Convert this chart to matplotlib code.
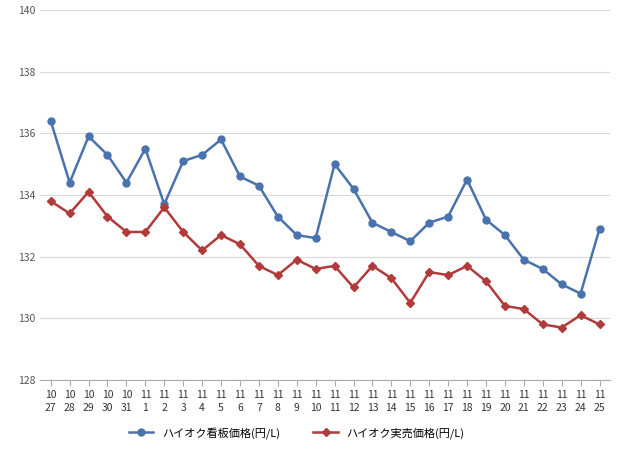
import matplotlib
matplotlib.use("Agg")
import matplotlib.pyplot as plt
import numpy as np

plt.rcParams['font.family'] = 'Noto Sans CJK JP'

months = ['10'] * 5 + ['11'] * 25
days = ['27', '28', '29', '30', '31'] + [str(d) for d in range(1, 26)]
kanban = [136.4, 134.4, 135.9, 135.3, 134.4, 135.5, 133.7, 135.1, 135.3, 135.8,
          134.6, 134.3, 133.3, 132.7, 132.6, 135.0, 134.2, 133.1, 132.8, 132.5,
          133.1, 133.3, 134.5, 133.2, 132.7, 131.9, 131.6, 131.1, 130.8, 132.9]
jitsubai = [133.8, 133.4, 134.1, 133.3, 132.8, 132.8, 133.6, 132.8, 132.2, 132.7,
            132.4, 131.7, 131.4, 131.9, 131.6, 131.7, 131.0, 131.7, 131.3, 130.5,
            131.5, 131.4, 131.7, 131.2, 130.4, 130.3, 129.8, 129.7, 130.1, 129.8]

x = np.arange(len(days))
fig = plt.figure(figsize=(6.4, 4.55), dpi=100)
ax = fig.add_axes([0.063, 0.165, 0.89, 0.813])

ax.plot(x, kanban, color='#4a72ae', marker='o', markersize=5, linewidth=1.8, label='ハイオク看板価格(円/L)')
ax.plot(x, jitsubai, color='#b23a3a', marker='D', markersize=4, linewidth=1.8, label='ハイオク実売価格(円/L)')

ax.set_xlim(-0.55, len(x) - 0.45)
ax.set_ylim(128, 140)
ax.set_yticks(range(128, 141, 2))
ax.set_xticks(x)
ax.set_xticklabels([m + '\n' + d for m, d in zip(months, days)], fontsize=7.5, color='#333333', linespacing=1.3)
ax.tick_params(axis='y', labelsize=7.5, colors='#555555', length=0)
ax.tick_params(axis='x', length=4, color='#aaaaaa')
ax.grid(axis='y', color='#d9d9d9', linewidth=0.8)
ax.set_axisbelow(True)
for s in ['top', 'right', 'left']:
    ax.spines[s].set_visible(False)
ax.spines['bottom'].set_color('#aaaaaa')

ax.legend(loc='upper center', bbox_to_anchor=(0.45, -0.1), ncol=2, frameon=False, fontsize=8, handlelength=2.2, columnspacing=3)

fig.savefig('out.png', dpi=100, facecolor='w')
